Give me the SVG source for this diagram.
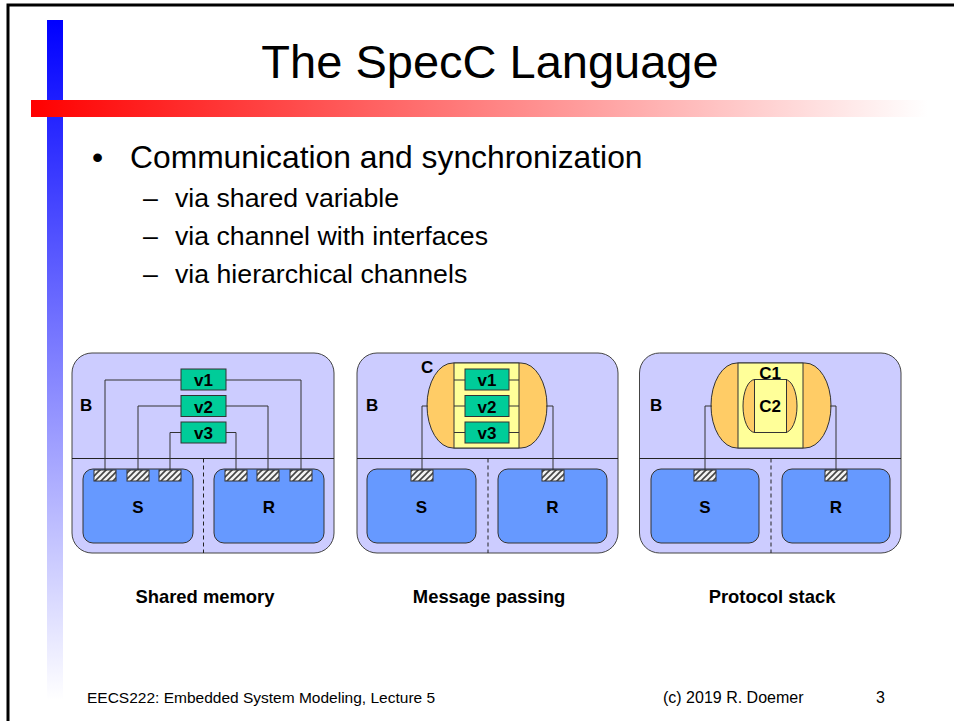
<svg xmlns="http://www.w3.org/2000/svg" width="954" height="721" viewBox="0 0 954 721">
<defs>
<linearGradient id="gBlue" x1="0" y1="20" x2="0" y2="700" gradientUnits="userSpaceOnUse"><stop offset="0" stop-color="#0000ff"/><stop offset="1" stop-color="#ffffff"/></linearGradient>
<linearGradient id="gRed" x1="31" y1="0" x2="928" y2="0" gradientUnits="userSpaceOnUse"><stop offset="0" stop-color="#ff0000"/><stop offset="1" stop-color="#ffffff"/></linearGradient>
<pattern id="hatch" patternUnits="userSpaceOnUse" width="6" height="6"><rect width="6" height="6" fill="#f2f2f2"/><path d="M0,6 L6,0 M-1,1 L1,-1 M5,7 L7,5" stroke="#444" stroke-width="1.6"/></pattern>
</defs>
<style>
.outer{fill:#ccccff;stroke:#444;stroke-width:1}
.box{fill:#6699ff;stroke:#333;stroke-width:1}
.port{fill:url(#hatch);stroke:#333;stroke-width:1}
.var{fill:#00cc99;stroke:#333;stroke-width:1}
.orange{fill:#ffcc66;stroke:#333;stroke-width:1}
.yellow{fill:#ffff99;stroke:#333;stroke-width:1}
.line{fill:none;stroke:#222;stroke-width:1}
.dash{fill:none;stroke:#222;stroke-width:1;stroke-dasharray:4,3}
.wire{fill:none;stroke:#333;stroke-width:1}
.lbl{font-family:"Liberation Sans",Arial,sans-serif;font-weight:bold;font-size:17px;fill:#000}
.cap{font-family:"Liberation Sans",Arial,sans-serif;font-weight:bold;font-size:18.4px;fill:#000;text-anchor:middle}
.txt{font-family:"Liberation Sans",Arial,sans-serif;fill:#000}
</style>
<rect width="954" height="721" fill="#ffffff"/>
<path d="M8,721 V5 H954" fill="none" stroke="#000" stroke-width="3"/>
<rect x="47" y="20" width="16" height="680" fill="url(#gBlue)"/>
<rect x="31" y="100" width="897" height="17" fill="url(#gRed)"/>
<text class="txt" x="490" y="78" font-size="47" text-anchor="middle">The SpecC Language</text>
<text class="txt" x="92" y="168" font-size="31.8">•</text>
<text class="txt" x="130" y="168" font-size="31.8">Communication and synchronization</text>
<text class="txt" x="143" y="207" font-size="26.7">–</text>
<text class="txt" x="175" y="207" font-size="26.7">via shared variable</text>
<text class="txt" x="143" y="245" font-size="26.7">–</text>
<text class="txt" x="175" y="245" font-size="26.7">via channel with interfaces</text>
<text class="txt" x="143" y="283" font-size="26.7">–</text>
<text class="txt" x="175" y="283" font-size="26.7">via hierarchical channels</text>

<!-- Panel 1: Shared memory -->
<g id="B1"><rect class="outer" x="72" y="353" width="262" height="200" rx="20"/><line class="line" x1="72" y1="458.5" x2="334" y2="458.5"/><line class="dash" x1="203.5" y1="458.5" x2="203.5" y2="553"/><text class="lbl" x="80" y="411">B</text></g>
<g id="S1"><rect class="box" x="83" y="469" width="110" height="74" rx="10"/><text class="lbl" x="138" y="513" text-anchor="middle">S</text></g>
<g id="R1"><rect class="box" x="214" y="469" width="110" height="74" rx="10"/><text class="lbl" x="269" y="513" text-anchor="middle">R</text></g>
<g id="v1a"><rect class="var" x="181" y="369" width="45" height="21"/><text class="lbl" x="203.5" y="386" text-anchor="middle">v1</text></g>
<g id="v2a"><rect class="var" x="181" y="395.5" width="45" height="21"/><text class="lbl" x="203.5" y="412.5" text-anchor="middle">v2</text></g>
<g id="v3a"><rect class="var" x="181" y="422" width="45" height="21"/><text class="lbl" x="203.5" y="439" text-anchor="middle">v3</text></g>
<g id="ports1">
<rect class="port" x="94" y="470" width="22" height="11"/><rect class="port" x="127" y="470" width="22" height="11"/><rect class="port" x="159" y="470" width="22" height="11"/>
<rect class="port" x="225" y="470" width="22" height="11"/><rect class="port" x="257" y="470" width="22" height="11"/><rect class="port" x="290" y="470" width="22" height="11"/>
</g>

<!-- Panel 2: Message passing -->
<g id="B2"><rect class="outer" x="357" y="353" width="261" height="200" rx="20"/><line class="line" x1="357" y1="458.5" x2="618" y2="458.5"/><line class="dash" x1="488" y1="458.5" x2="488" y2="553"/><text class="lbl" x="366" y="411">B</text></g>
<g id="S2"><rect class="box" x="367" y="469" width="109" height="74" rx="10"/><text class="lbl" x="421.5" y="513" text-anchor="middle">S</text></g>
<g id="R2"><rect class="box" x="498" y="469" width="109" height="74" rx="10"/><text class="lbl" x="552.5" y="513" text-anchor="middle">R</text></g>
<g id="C"><rect class="orange" x="427" y="363" width="120" height="85" rx="26" ry="42.5"/><rect class="yellow" x="454" y="363" width="65" height="85"/>
<path class="wire" d="M454,380 H465 M509,380 H519 M454,406 H465 M509,406 H519 M454,432.5 H465 M509,432.5 H519"/>
<text class="lbl" x="421" y="373">C</text></g>
<g id="v1b"><rect class="var" x="465" y="369" width="44" height="21"/><text class="lbl" x="487" y="386" text-anchor="middle">v1</text></g>
<g id="v2b"><rect class="var" x="465" y="395.5" width="44" height="21"/><text class="lbl" x="487" y="412.5" text-anchor="middle">v2</text></g>
<g id="v3b"><rect class="var" x="465" y="422" width="44" height="21"/><text class="lbl" x="487" y="439" text-anchor="middle">v3</text></g>
<g id="ports2"><rect class="port" x="411" y="470" width="22" height="11"/><rect class="port" x="542" y="470" width="22" height="11"/></g>

<!-- Panel 3: Protocol stack -->
<g id="B3"><rect class="outer" x="639.5" y="353" width="261.5" height="200" rx="20"/><line class="line" x1="639.5" y1="458.5" x2="901" y2="458.5"/><line class="dash" x1="771" y1="458.5" x2="771" y2="553"/><text class="lbl" x="650" y="411">B</text></g>
<g id="S3"><rect class="box" x="651" y="469" width="108" height="74" rx="10"/><text class="lbl" x="705" y="513" text-anchor="middle">S</text></g>
<g id="R3"><rect class="box" x="782" y="469" width="108" height="74" rx="10"/><text class="lbl" x="836" y="513" text-anchor="middle">R</text></g>
<g id="C1"><rect class="orange" x="711" y="363" width="120" height="85" rx="26" ry="42.5"/><rect class="yellow" x="738" y="363" width="65" height="85"/><text class="lbl" x="770" y="379" text-anchor="middle">C1</text></g>
<g id="C2"><rect class="orange" x="743" y="379.5" width="54" height="53" rx="12" ry="26.5"/><rect class="yellow" x="754.5" y="379.5" width="32" height="53"/><text class="lbl" x="770" y="412" text-anchor="middle">C2</text></g>
<g id="ports3"><rect class="port" x="694" y="470" width="22" height="11"/><rect class="port" x="825" y="470" width="22" height="11"/></g>

<g id="connectors">
<path class="wire" d="M105,470 V380 H181 M226,380 H301 V470"/>
<path class="wire" d="M138,470 V406 H181 M226,406 H268 V470"/>
<path class="wire" d="M170,470 V432.5 H181 M226,432.5 H236 V470"/>
<path class="wire" d="M422,470 V406 H428 M553,470 V406 H546"/>
<path class="wire" d="M705,470 V406 H712 M836,470 V406 H830"/>
</g>

<text class="cap" x="205" y="603">Shared memory</text>
<text class="cap" x="489" y="603">Message passing</text>
<text class="cap" x="772" y="603">Protocol stack</text>

<text class="txt" x="87" y="703" font-size="15.5">EECS222: Embedded System Modeling, Lecture 5</text>
<text class="txt" x="663" y="703" font-size="16">(c) 2019 R. Doemer</text>
<text class="txt" x="876" y="703" font-size="16">3</text>
</svg>
